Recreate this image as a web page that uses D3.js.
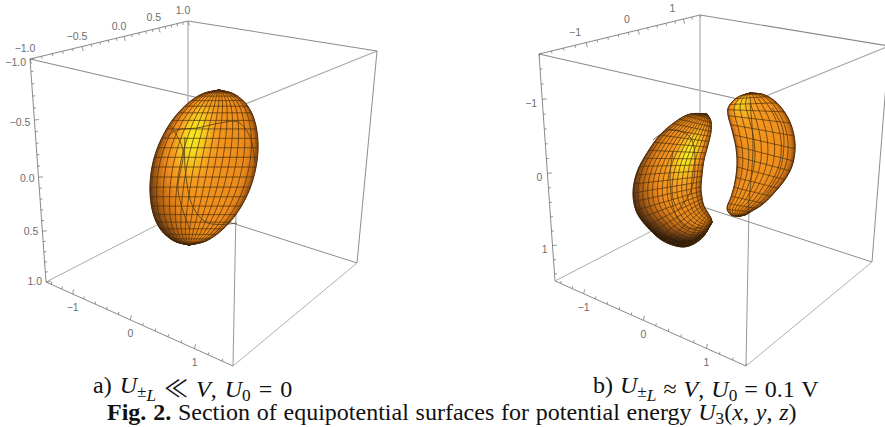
<!DOCTYPE html>
<html>
<head>
<meta charset="utf-8">
<script src="https://cdn.jsdelivr.net/npm/d3@7"></script>
<style>
  html, body { margin: 0; padding: 0; background: #fff; }
  svg { display: block; }
</style>
</head>
<body>
<div id="svgcontainer"></div>
<script>
/***************************************************************** */
/* data
/***************************************************************** */

// axis ticks, panel a
const a_top_major = [-1, -0.5, 0, 0.5, 1]
const a_left_major = [-1, -0.5, 0, 0.5, 1]
const a_bottom_major = [-1, 0, 1]

// axis ticks, panel b
const b_top_major = [-1, 0, 1]
const b_left_major = [-1, 0, 1]
const b_bottom_major = [-1, 0, 1]

// surfaces, in view units (one unit is 100px, origin is the panel centre)
// each surface is a left and a right edge running between the same two poles
const ellipsoid_left = [[.19,-1.10],[.02,-1.06],[-.14,-.95],[-.29,-.78],[-.41,-.56],[-.48,-.33],[-.50,-.09],[-.47,.13],[-.39,.30],[-.26,.41],[-.11,.45]]
const ellipsoid_right = [[.19,-1.10],[.34,-1.06],[.47,-.95],[.55,-.78],[.58,-.56],[.56,-.33],[.49,-.09],[.37,.13],[.22,.30],[.06,.41],[-.11,.45]]
const ellipsoid_arcs = [
    [[-.35,-.62],[-.23,-.70],[-.03,-.72],[.20,-.77],[.38,-.78],[.50,-.63],[.55,-.37]],
    [[-.15,-.63],[-.15,-.33],[-.07,.07],[.08,.23],[.37,.23]],
    [[-.30,-.75],[-.17,-.50],[-.22,-.10],[-.10,.30]]
]

const kidney_left_left = [[.27,-.86],[.10,-.86],[-.05,-.78],[-.20,-.65],[-.33,-.47],[-.43,-.28],[-.47,-.07],[-.43,.13],[-.30,.30],[-.15,.42],[.05,.47],[.22,.38],[.32,.22]]
const kidney_left_right = [[.27,-.86],[.31,-.79],[.31,-.68],[.28,-.55],[.24,-.40],[.22,-.25],[.21,-.12],[.22,-.02],[.24,.06],[.28,.13],[.31,.18],[.32,.22]]
const kidney_left_arcs = [
    [[-.27,-.60],[-.10,-.70],[.10,-.63],[.15,-.33],[.10,-.07],[-.02,.10]],
    [[-.07,-.48],[-.10,-.23],[-.05,.13],[.07,.28],[.22,.27]]
]

const kidney_right_left = [[.70,-1.07],[.58,-1.03],[.49,-.94],[.48,-.85],[.52,-.70],[.56,-.52],[.57,-.35],[.55,-.18],[.51,-.03],[.47,.08],[.51,.15],[.58,.16]]
const kidney_right_right = [[.70,-1.07],[.85,-1.05],[.99,-.95],[1.10,-.78],[1.15,-.57],[1.13,-.37],[1.06,-.22],[.95,-.08],[.83,.04],[.72,.11],[.65,.15],[.58,.16]]
const kidney_right_arcs = [
    [[.70,-.97],[.73,-.53],[.68,.10]],
    [[.92,-.92],[1.03,-.70],[1.00,-.30],[.85,-.05]]
]

const caption_a = "a) "
const caption_b = "b) "
const caption_fig = "Fig. 2."
const caption_fig_text = " Section of equipotential surfaces for potential energy "

/***************************************************************** */
/* page and helpers
/***************************************************************** */

const svg_width = 885, svg_height = 427

let svg = d3.select("#svgcontainer")
    .append("svg")
    .attr("width", svg_width)
    .attr("height", svg_height)

let defs = svg.append("defs")
defs.append("filter").attr("id", "soft")
    .attr("x", "-10%").attr("y", "-10%").attr("width", "120%").attr("height", "120%")
    .append("feGaussianBlur").attr("stdDeviation", 0.4)

// the box frame of each panel, the places the cube corners fall on the page
const frame_a = { A: [30, 59], B: [188, 21], C: [377, 51], D: [238, 107], E: [46, 282], F: [188, 209], G: [357, 263], H: [233, 366] }
const frame_b = { A: [539, 54], B: [700, 15], C: [889, 46], D: [751, 102], E: [555, 281], F: [700, 206], G: [872, 262], H: [746, 366] }

const edge_styles = [
    ["A", "B", "#8c8c8c", 1.1], ["A", "D", "#8c8c8c", 1.1], ["B", "C", "#8c8c8c", 1.1],
    ["C", "D", "#a8a8a8", 1.2], ["B", "F", "#bdbdbd", 1.5], ["A", "E", "#8a8a8a", 1],
    ["D", "H", "#8a8a8a", 0.9], ["C", "G", "#808080", 0.9], ["E", "F", "#a0a0a0", 0.9],
    ["F", "G", "#808080", 0.9], ["E", "H", "#8a8a8a", 1], ["H", "G", "#b0b0b0", 1]
]

// perspective correct position along a box edge, w is the depth ratio of its ends
function warp(t, w) {
    return t * w / (1 - t + t * w)
}

function draw_box(g, frame) {
    g.selectAll("line.edge")
        .data(edge_styles)
        .join("line")
        .attr("class", "edge")
        .attr("x1", d => frame[d[0]][0])
        .attr("y1", d => frame[d[0]][1])
        .attr("x2", d => frame[d[1]][0])
        .attr("y2", d => frame[d[1]][1])
        .attr("stroke", d => d[2])
        .attr("stroke-width", d => d[3])
}

function draw_axis(g, frame, axis) {
    let p0 = frame[axis.from], p1 = frame[axis.to]
    let scale = d3.scaleLinear().domain(axis.domain).range([0, 1])
    let place = v => {
        let t = warp(scale(v), axis.w)
        return [p0[0] + (p1[0] - p0[0]) * t, p0[1] + (p1[1] - p0[1]) * t]
    }

    // minor ticks count up from the major ones
    let minors = d3.range(-4, 4.001, axis.minor)
        .map(v => Math.round(v * 100) / 100)
        .filter(v => v >= axis.domain[0] && v <= axis.domain[1] && !axis.major.includes(v))

    let tick = (v, len) => {
        let p = place(v)
        g.append("line")
            .attr("x1", p[0]).attr("y1", p[1])
            .attr("x2", p[0] + axis.dir[0] * len).attr("y2", p[1] + axis.dir[1] * len)
            .attr("stroke", "#7a7a7a").attr("stroke-width", 0.8)
    }
    minors.forEach(v => tick(v, 2.5))
    axis.major.forEach(v => tick(v, 4.5))

    g.selectAll("text.tick_" + axis.from + axis.to)
        .data(axis.major)
        .join("text")
        .attr("class", "tick_" + axis.from + axis.to)
        .attr("x", d => place(d)[0] + axis.label[0])
        .attr("y", d => place(d)[1] + axis.label[1] + (axis.label_slope || 0) * (1 - scale(d)))
        .attr("text-anchor", axis.anchor || "middle")
        .attr("dominant-baseline", "middle")
        .attr("font-family", "'Liberation Sans', Arial, sans-serif")
        .attr("font-size", 10.5)
        .attr("fill", "#6e6e6e")
        .text(axis.format)
}

// Catmull-Rom through a list of points, s runs from 0 to 1
function along(points, s) {
    let n = points.length - 1
    let f = Math.min(s * n, n - 1e-6)
    let i = Math.floor(f), u = f - i
    let p0 = points[Math.max(i - 1, 0)], p1 = points[i], p2 = points[i + 1], p3 = points[Math.min(i + 2, n)]
    let c = k => 0.5 * (2 * p1[k] + (p2[k] - p0[k]) * u
        + (2 * p0[k] - 5 * p1[k] + 4 * p2[k] - p3[k]) * u * u
        + (3 * p1[k] - p0[k] - 3 * p2[k] + p3[k]) * u * u * u)
    return [c(0), c(1)]
}

const shade_ramp = d3.scaleLinear()
    .domain([0, .25, .5, .7, .82, .92, 1])
    .range(["#2a1705", "#6b3a0c", "#b9640f", "#ee8a18", "#f59a1c", "#f6c41d", "#f6ee1e"])
    .clamp(true)

const rim_scale = d3.scaleLinear().domain([0, .15, .45, .8, 1]).range([.04, .34, .68, .95, 1]).clamp(true)

function luminance(t, s, look) {
    let e = Math.sqrt(Math.max(0, (1 - Math.pow(2 * t - 1, 4)) * (1 - Math.pow(2 * s - 1, 4))))
    let dt = (t - look.light[0]) / look.spread[0], ds = (s - look.light[1]) / look.spread[1]
    let glow = Math.exp(-(dt * dt + ds * ds) / 2)
    let k = Math.max(0, (t - .5) * look.shadow[0] + (s - .5) * look.shadow[1])
    return rim_scale(e) * (look.base + (1 - look.base) * glow) * (1 - look.shadow[2] * k * k)
}

function draw_surface(g, u, v, left, right, arcs, look) {
    let at = (s, t) => {
        let a = along(left, s), b = along(right, s)
        return [u(a[0] + (b[0] - a[0]) * t), v(a[1] + (b[1] - a[1]) * t)]
    }

    let surf = g.append("g").attr("filter", "url(#soft)")

    // shaded patches
    let cells = []
    const ns = 70, nt = 36
    for (let i = 0; i < ns; i++) {
        for (let j = 0; j < nt; j++) {
            cells.push({ i: i, j: j })
        }
    }
    surf.selectAll("path.cell")
        .data(cells)
        .join("path")
        .attr("class", "cell")
        .attr("d", d => {
            let s0 = d.i / ns, s1 = (d.i + 1) / ns, t0 = d.j / nt, t1 = (d.j + 1) / nt
            return "M" + [at(s0, t0), at(s0, t1), at(s1, t1), at(s1, t0)].join("L") + "Z"
        })
        .attr("fill", d => shade_ramp(luminance((d.j + .5) / nt, (d.i + .5) / ns, look)))
        .attr("stroke", d => shade_ramp(luminance((d.j + .5) / nt, (d.i + .5) / ns, look)))
        .attr("stroke-width", 0.6)

    // mesh lines
    let line = d3.line().curve(d3.curveCatmullRom)
    let sample = d3.range(0, 1.0001, 1 / 40)
    for (let c = 1; c < look.cols; c++) {
        let t = c / look.cols
        surf.append("path")
            .attr("d", line(sample.map(s => at(s, t))))
            .attr("fill", "none").attr("stroke", "#4a2e0c").attr("stroke-width", 0.85).attr("stroke-opacity", 0.85)
    }
    for (let r = 1; r < look.rows; r++) {
        let s = r / look.rows
        surf.append("path")
            .attr("d", line(sample.map(t => at(s, t))))
            .attr("fill", "none").attr("stroke", "#4a2e0c").attr("stroke-width", 0.85).attr("stroke-opacity", 0.85)
    }
    arcs.forEach(arc => {
        surf.append("path")
            .attr("d", line(arc.map(p => [u(p[0]), v(p[1])])))
            .attr("fill", "none").attr("stroke", "#4d3a18").attr("stroke-width", 1).attr("stroke-opacity", 0.8)
    })

    // outline
    let outline = sample.map(s => at(s, 0)).concat(sample.slice().reverse().map(s => at(s, 1)))
    surf.append("path")
        .attr("d", "M" + outline.join("L") + "Z")
        .attr("fill", "none").attr("stroke", "#3f2508").attr("stroke-width", 0.9)
}

/***************************************************************** */
/* panel a
/***************************************************************** */

let panel_a = svg.append("g").attr("id", "panel_a")
draw_box(panel_a, frame_a)
draw_axis(panel_a, frame_a, { from: "A", to: "B", domain: [-1, 1], w: 1.47, major: a_top_major, minor: 0.1,
    dir: [.3, 1], label: [-5, -9.5], format: d3.format(".1f") })
draw_axis(panel_a, frame_a, { from: "A", to: "E", domain: [-1, 1], w: 1.13, major: a_left_major, minor: 0.1,
    dir: [1, -.1], label: [-4, 0], label_slope: 4, anchor: "end", format: d3.format(".1f") })
draw_axis(panel_a, frame_a, { from: "E", to: "H", domain: [-1.5, 1.55], w: .85, major: a_bottom_major, minor: 0.2,
    dir: [.2, -1], label: [0, 14.5], format: d3.format("d") })

let a_u = d3.scaleLinear().domain([-2, 2]).range([0, 400])
let a_v = d3.scaleLinear().domain([-2, 2]).range([0, 400])
draw_surface(panel_a, a_u, a_v, ellipsoid_left, ellipsoid_right, ellipsoid_arcs,
    { light: [.3, .38], spread: [.18, .16], base: .72, shadow: [-1, .8, 1.3], rows: 24, cols: 15 })

/***************************************************************** */
/* panel b
/***************************************************************** */

let panel_b = svg.append("g").attr("id", "panel_b")
draw_box(panel_b, frame_b)
draw_axis(panel_b, frame_b, { from: "A", to: "B", domain: [-1.8, 1.4], w: 1.24, major: b_top_major, minor: 0.2,
    dir: [.3, 1], label: [-11, -9.5], format: d3.format("d") })
draw_axis(panel_b, frame_b, { from: "A", to: "E", domain: [-1.6, 1.5], w: 1.04, major: b_left_major, minor: 0.2,
    dir: [1, -.1], label: [-5, 5], anchor: "end", format: d3.format("d") })
draw_axis(panel_b, frame_b, { from: "E", to: "H", domain: [-1.5, 1.6], w: .92, major: b_bottom_major, minor: 0.2,
    dir: [.2, -1], label: [0, 14.5], format: d3.format("d") })

let b_u = d3.scaleLinear().domain([-2, 2]).range([480, 880])
let b_v = d3.scaleLinear().domain([-2, 2]).range([0, 400])
draw_surface(panel_b, b_u, b_v, kidney_left_left, kidney_left_right, kidney_left_arcs,
    { light: [.72, .33], spread: [.22, .14], base: .68, shadow: [-1, 1, 2.4], rows: 28, cols: 14 })
draw_surface(panel_b, b_u, b_v, kidney_right_left, kidney_right_right, kidney_right_arcs,
    { light: [.18, .12], spread: [.25, .13], base: .74, shadow: [1, 1, .6], rows: 18, cols: 9 })

/***************************************************************** */
/* captions
/***************************************************************** */

const serif = "'Liberation Serif', 'Times New Roman', serif"

function math_line(x, y, parts, size, word_gap) {
    let text = svg.append("text")
        .attr("x", x).attr("y", y)
        .attr("font-family", serif).attr("font-size", size).attr("fill", "#111")
        .attr("word-spacing", word_gap)
        .attr("xml:space", "preserve")
    parts.forEach(p => {
        let span = text.append("tspan").text(p.t)
        if (p.i) span.attr("font-style", "italic")
        if (p.b) span.attr("font-weight", "bold")
        if (p.f) span.attr("font-family", p.f)
        if (p.sub) span.attr("font-size", size * .72).attr("dy", size * .17)
        if (p.up) span.attr("dy", -size * .17)
    })
}

math_line(93, 392.5, [
    { t: caption_a }, { t: "U", i: 1 }, { t: "\u00B1", sub: 1 }, { t: "L", i: 1, sub: 1 },
    { t: " ", up: 1 }, { t: "\u226A", f: "'Noto Sans CJK JP'" }, { t: " " }, { t: "V", i: 1 }, { t: ", " }, { t: "U", i: 1 }, { t: "0", sub: 1 }, { t: " = 0", up: 1 }
], 24, 2)

math_line(593, 392.5, [
    { t: caption_b }, { t: "U", i: 1 }, { t: "\u00B1", sub: 1 }, { t: "L", i: 1, sub: 1 },
    { t: " \u2248 ", up: 1 }, { t: "V", i: 1 }, { t: ", " }, { t: "U", i: 1 }, { t: "0", sub: 1 }, { t: " = 0.1 V", up: 1 }
], 24, 1)

math_line(107, 420, [
    { t: caption_fig, b: 1 }, { t: caption_fig_text }, { t: "U", i: 1 }, { t: "3", sub: 1 },
    { t: "(", up: 1 }, { t: "x", i: 1 }, { t: ", " }, { t: "y", i: 1 }, { t: ", " }, { t: "z", i: 1 }, { t: ")" }
], 24, 0.8)
</script>
</body>
</html>
